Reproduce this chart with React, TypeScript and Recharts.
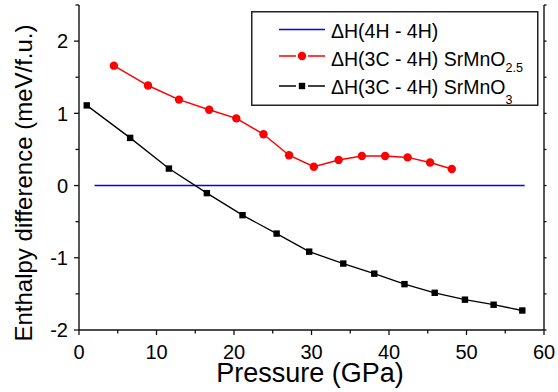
import { LineChart, Line, XAxis, YAxis, Legend } from "recharts";

const FONT = "'Liberation Sans', Arial, Helvetica, sans-serif";

// pressure (GPa) / enthalpy difference (meV/f.u.)
const srMnO25P = [4.5, 8.9, 12.9, 16.8, 20.3, 23.8, 27.1, 30.3, 33.5, 36.5, 39.5, 42.4, 45.3, 48.1];
const srMnO25H = [1.66, 1.385, 1.19, 1.05, 0.93, 0.71, 0.42, 0.26, 0.355, 0.41, 0.41, 0.39, 0.32, 0.23];
const srMnO3P = [1.0, 6.6, 11.6, 16.5, 21.1, 25.5, 29.7, 34.1, 38.1, 42.0, 45.9, 49.8, 53.5, 57.2];
const srMnO3H = [1.11, 0.66, 0.235, -0.105, -0.41, -0.665, -0.915, -1.08, -1.22, -1.365, -1.485, -1.58, -1.65, -1.73];
const refP = [2, 57.5];
const refH = [0, 0];

const xMajor = [0, 10, 20, 30, 40, 50, 60];
const xTicks = [0, 5, 10, 15, 20, 25, 30, 35, 40, 45, 50, 55, 60];
const yMajor = [-2, -1, 0, 1, 2];
const yTicks = [-2, -1.5, -1, -0.5, 0, 0.5, 1, 1.5, 2, 2.5];

const red = srMnO25P.map((p, i) => ({ p, h: srMnO25H[i] }));
const black = srMnO3P.map((p, i) => ({ p, h: srMnO3H[i] }));
const blue = refP.map((p, i) => ({ p, h: refH[i] }));

const AX = "#111";

const BottomTick = (props: any) => {
  const { x, y, payload } = props;
  const major = xMajor.includes(payload.value);
  return (
    <g>
      <line x1={x} y1={y} x2={x} y2={y + (major ? 5 : 3.5)} stroke={AX} strokeWidth={1.3} />
      {major && (
        <text x={x} y={y + 15} dy="0.71em" textAnchor="middle" fontSize={20} fontFamily={FONT} fill="#000">
          {payload.value}
        </text>
      )}
    </g>
  );
};

const LeftTick = (props: any) => {
  const { x, y, payload } = props;
  const major = yMajor.includes(payload.value);
  return (
    <g>
      <line x1={x} y1={y} x2={x - (major ? 5 : 3.5)} y2={y} stroke={AX} strokeWidth={1.3} />
      {major && (
        <text x={x - 11} y={y} dy="0.36em" textAnchor="end" fontSize={20} fontFamily={FONT} fill="#000">
          {payload.value}
        </text>
      )}
    </g>
  );
};

const TopTick = (props: any) => {
  const { x, y } = props;
  return <line x1={x} y1={y} x2={x} y2={y - 2.5} stroke={AX} strokeWidth={1.3} />;
};

const RightTick = (props: any) => {
  const { x, y } = props;
  return <line x1={x} y1={y} x2={x + 2.5} y2={y} stroke={AX} strokeWidth={1.3} />;
};

const SquareDot = (props: any) => {
  const { cx, cy, index } = props;
  return <rect key={index} x={cx - 3.2} y={cy - 3.2} width={6.4} height={6.4} fill="#000" />;
};

const YTitle = () => (
  <text transform="translate(32,183) rotate(-90)" textAnchor="middle" fontSize={24} fontFamily={FONT} fill="#000">
    Enthalpy difference (meV/f.u.)
  </text>
);

const XTitle = () => (
  <text x={310} y={382} textAnchor="middle" fontSize={27} fontFamily={FONT} fill="#000">
    Pressure (GPa)
  </text>
);

const LegendBox = () => (
  <svg width={288} height={96} style={{ display: "block" }}>
    <rect x={0.75} y={0.75} width={286} height={93.5} fill="#fff" stroke="#222" strokeWidth={1.5} />
    <line x1={28} y1={18.5} x2={74} y2={18.5} stroke="#0000ff" strokeWidth={1.5} />
    <line x1={28} y1={45} x2={45} y2={45} stroke="#ff0000" strokeWidth={1.5} />
    <circle cx={51} cy={45} r={4.2} fill="#ff0000" />
    <line x1={57} y1={45} x2={74} y2={45} stroke="#ff0000" strokeWidth={1.5} />
    <line x1={28} y1={75} x2={45} y2={75} stroke="#000" strokeWidth={1.5} />
    <rect x={47.8} y={71.8} width={6.4} height={6.4} fill="#000" />
    <line x1={57} y1={75} x2={74} y2={75} stroke="#000" strokeWidth={1.5} />
    <g fontFamily={FONT} fontSize={19.5} fill="#000">
      <text x={80} y={27}>ΔH(4H - 4H)</text>
      <text x={80} y={54.5}>
        ΔH(3C - 4H) SrMnO
        <tspan fontSize={12.5} dy={6.5}>2.5</tspan>
      </text>
      <text x={80} y={83}>
        ΔH(3C - 4H) SrMnO
        <tspan fontSize={12.5} dy={9.5}>3</tspan>
      </text>
    </g>
  </svg>
);

export default function App() {
  return (
    <div style={{ position: "absolute", left: 0, top: 0, background: "#fff" }}>
      <LineChart width={558} height={392} margin={{ top: 5, right: 0, bottom: 0, left: 0 }}>
        <XAxis
          xAxisId="b"
          dataKey="p"
          type="number"
          domain={[0, 60]}
          ticks={xTicks}
          interval={0}
          allowDataOverflow
          height={62}
          tickSize={0}
          tickMargin={0}
          tickLine={false}
          tick={<BottomTick />}
          axisLine={{ stroke: AX, strokeWidth: 1.4 }}
          label={<XTitle />}
        />
        <XAxis
          xAxisId="t"
          orientation="top"
          dataKey="p"
          type="number"
          domain={[0, 60]}
          ticks={xTicks}
          interval={0}
          allowDataOverflow
          height={0}
          tickSize={0}
          tickMargin={0}
          tickLine={false}
          tick={<TopTick />}
          axisLine={{ stroke: AX, strokeWidth: 1.4 }}
        />
        <YAxis
          yAxisId="l"
          type="number"
          domain={[-2, 2.5]}
          ticks={yTicks}
          interval={0}
          allowDataOverflow
          width={79}
          tickSize={0}
          tickMargin={0}
          tickLine={false}
          tick={<LeftTick />}
          axisLine={{ stroke: AX, strokeWidth: 1.4 }}
          label={<YTitle />}
        />
        <YAxis
          yAxisId="r"
          orientation="right"
          type="number"
          domain={[-2, 2.5]}
          ticks={yTicks}
          interval={0}
          allowDataOverflow
          width={14}
          tickSize={0}
          tickMargin={0}
          tickLine={false}
          tick={<RightTick />}
          axisLine={{ stroke: AX, strokeWidth: 1.4 }}
        />
        <Legend
          layout="vertical"
          align="center"
          verticalAlign="middle"
          content={<LegendBox />}
          wrapperStyle={{ left: 251, top: 11, width: 288, height: 96 }}
        />
        <Line
          xAxisId="b"
          yAxisId="l"
          data={blue}
          dataKey="h"
          type="linear"
          stroke="#0000ff"
          strokeWidth={1.5}
          dot={false}
          isAnimationActive={false}
        />
        <Line
          xAxisId="b"
          yAxisId="l"
          data={red}
          dataKey="h"
          type="linear"
          stroke="#ff0000"
          strokeWidth={1.5}
          dot={{ r: 4.2, fill: "#ff0000", stroke: "#ff0000", strokeWidth: 0 }}
          isAnimationActive={false}
        />
        <Line
          xAxisId="b"
          yAxisId="l"
          data={black}
          dataKey="h"
          type="linear"
          stroke="#000"
          strokeWidth={1.3}
          dot={<SquareDot />}
          isAnimationActive={false}
        />
      </LineChart>
    </div>
  );
}
